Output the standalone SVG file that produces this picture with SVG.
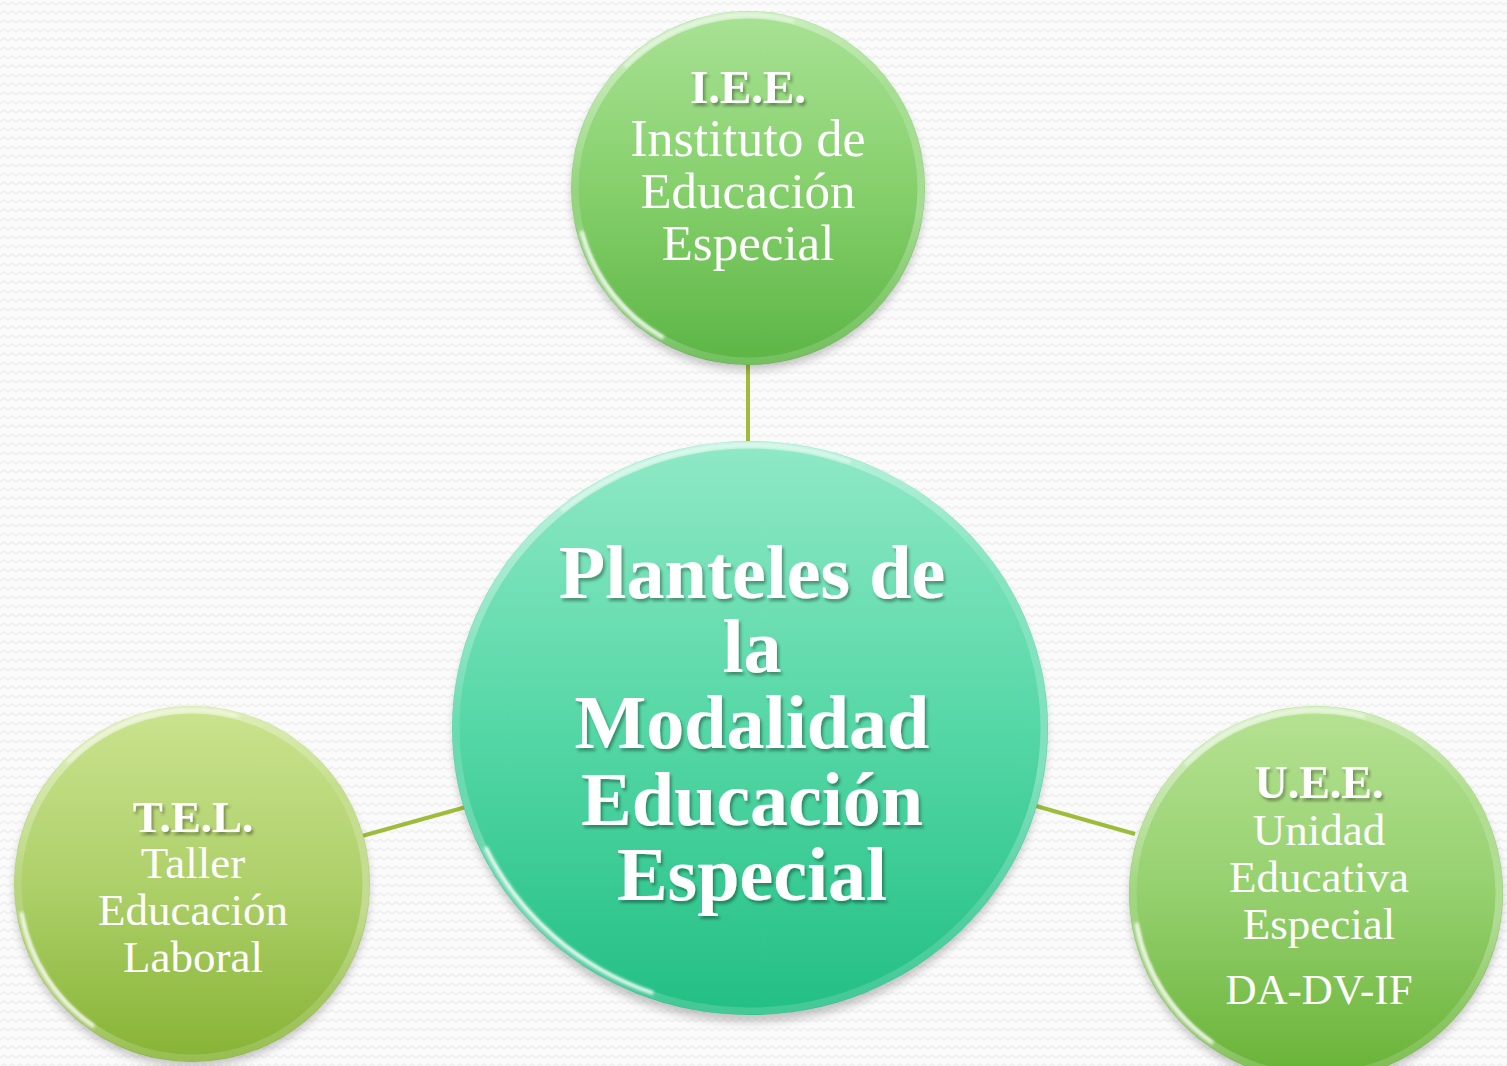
<svg xmlns="http://www.w3.org/2000/svg" width="1507" height="1066" viewBox="0 0 1507 1066">
<defs>
<pattern id="bgp" width="8" height="9" patternUnits="userSpaceOnUse">
<rect width="8" height="9" fill="#fbfbfb"/>
<path d="M0 5 L4 2 L8 5" fill="none" stroke="#efefef" stroke-width="1.5"/>
</pattern>
<linearGradient id="gTop" x1="0" y1="0" x2="0" y2="1">
<stop offset="0" stop-color="#a9e295"/>
<stop offset="0.5" stop-color="#86d06c"/>
<stop offset="1" stop-color="#5cb545"/>
</linearGradient>
<linearGradient id="gCen" x1="0" y1="0" x2="0" y2="1">
<stop offset="0" stop-color="#90e9c6"/>
<stop offset="0.5" stop-color="#55d7a6"/>
<stop offset="1" stop-color="#22bf84"/>
</linearGradient>
<linearGradient id="gLeft" x1="0" y1="0" x2="0" y2="1">
<stop offset="0" stop-color="#cbe38f"/>
<stop offset="0.5" stop-color="#aed06a"/>
<stop offset="1" stop-color="#86b334"/>
</linearGradient>
<linearGradient id="gRight" x1="0" y1="0" x2="0" y2="1">
<stop offset="0" stop-color="#b6e293"/>
<stop offset="0.5" stop-color="#95d06e"/>
<stop offset="1" stop-color="#68b236"/>
</linearGradient>
<linearGradient id="rim" x1="0" y1="0" x2="0.3" y2="1">
<stop offset="0" stop-color="#ffffff" stop-opacity="0.55"/>
<stop offset="0.45" stop-color="#ffffff" stop-opacity="0.12"/>
<stop offset="0.8" stop-color="#ffffff" stop-opacity="0.3"/>
<stop offset="1" stop-color="#ffffff" stop-opacity="0.15"/>
</linearGradient>
<filter id="sh" x="-20%" y="-20%" width="140%" height="140%">
<feGaussianBlur stdDeviation="5"/>
</filter>
<filter id="gl" x="-20%" y="-20%" width="140%" height="140%">
<feGaussianBlur stdDeviation="1.5"/>
</filter>
<filter id="ts" x="-10%" y="-20%" width="120%" height="140%">
<feDropShadow dx="2" dy="3" stdDeviation="1.5" flood-color="#000" flood-opacity="0.35"/>
</filter>
</defs>
<style>
.t{font-family:"Liberation Serif","Times New Roman",serif;fill:#ffffff;text-anchor:middle}
.b{font-weight:bold}
.con{stroke:#9dbd3a;stroke-width:4;fill:none}
.ring{fill:none;stroke:url(#rim);stroke-width:7}
.shadow{fill:#000;opacity:0.22}
.glint{fill:none;stroke:#ffffff;stroke-width:4;stroke-linecap:round;opacity:0.85}
.glintTop{fill:none;stroke:#ffffff;stroke-width:4;stroke-linecap:round;opacity:0.5}
</style>
<rect width="1507" height="1066" fill="url(#bgp)"/>
<g id="connectors">
<line class="con" x1="748" y1="360" x2="748" y2="446"/>
<line class="con" x1="362" y1="836" x2="466" y2="807"/>
<line class="con" x1="1036" y1="806" x2="1135" y2="834"/>
</g>
<g id="node-top">
<circle class="shadow" cx="748" cy="194" r="176" filter="url(#sh)"/>
<circle cx="748" cy="188" r="177" fill="url(#gTop)"/>
<circle class="ring" cx="748" cy="188" r="173"/>
<circle class="glint" cx="748" cy="188" r="172" pathLength="360" stroke-dasharray="45 315" stroke-dashoffset="-120" filter="url(#gl)"/>
<circle class="glintTop" cx="748" cy="188" r="173" pathLength="360" stroke-dasharray="60 300" stroke-dashoffset="-225" filter="url(#gl)"/>
<g filter="url(#ts)">
<text class="t b" x="748" y="103" font-size="47">I.E.E.</text>
</g>
<text class="t" x="748" y="156" font-size="52">Instituto de</text>
<text class="t" x="748" y="208" font-size="51">Educación</text>
<text class="t" x="748" y="260" font-size="51">Especial</text>
</g>
<g id="node-center">
<ellipse class="shadow" cx="750" cy="735" rx="296" ry="287" filter="url(#sh)"/>
<ellipse cx="750" cy="728" rx="298" ry="287" fill="url(#gCen)"/>
<ellipse class="ring" cx="750" cy="728" rx="294" ry="283"/>
<ellipse class="glint" cx="750" cy="728" rx="292" ry="281" pathLength="360" stroke-dasharray="45 315" stroke-dashoffset="-110" filter="url(#gl)"/>
<ellipse class="glintTop" cx="750" cy="728" rx="294" ry="283" pathLength="360" stroke-dasharray="60 300" stroke-dashoffset="-230" filter="url(#gl)"/>
<g filter="url(#ts)">
<text class="t b" x="752" y="598" font-size="76">Planteles de</text>
<text class="t b" x="752" y="672" font-size="76">la</text>
<text class="t b" x="752" y="748" font-size="76">Modalidad</text>
<text class="t b" x="752" y="825" font-size="76">Educación</text>
<text class="t b" x="752" y="900" font-size="76">Especial</text>
</g>
</g>
<g id="node-left">
<circle class="shadow" cx="192" cy="890" r="177" filter="url(#sh)"/>
<circle cx="192" cy="884" r="178" fill="url(#gLeft)"/>
<circle class="ring" cx="192" cy="884" r="174"/>
<circle class="glint" cx="192" cy="884" r="173" pathLength="360" stroke-dasharray="45 315" stroke-dashoffset="-125" filter="url(#gl)"/>
<circle class="glintTop" cx="192" cy="884" r="174" pathLength="360" stroke-dasharray="60 300" stroke-dashoffset="-225" filter="url(#gl)"/>
<g filter="url(#ts)">
<text class="t b" x="193" y="832" font-size="45">T.E.L.</text>
</g>
<text class="t" x="193" y="878" font-size="45">Taller</text>
<text class="t" x="193" y="925" font-size="45">Educación</text>
<text class="t" x="193" y="972" font-size="45">Laboral</text>
</g>
<g id="node-right">
<circle class="shadow" cx="1316" cy="899" r="186" filter="url(#sh)"/>
<circle cx="1316" cy="893" r="187" fill="url(#gRight)"/>
<circle class="ring" cx="1316" cy="893" r="183"/>
<circle class="glint" cx="1316" cy="893" r="182" pathLength="360" stroke-dasharray="45 315" stroke-dashoffset="-125" filter="url(#gl)"/>
<circle class="glintTop" cx="1316" cy="893" r="183" pathLength="360" stroke-dasharray="60 300" stroke-dashoffset="-225" filter="url(#gl)"/>
<g filter="url(#ts)">
<text class="t b" x="1319" y="798" font-size="46">U.E.E.</text>
</g>
<text class="t" x="1319" y="845" font-size="45">Unidad</text>
<text class="t" x="1319" y="892" font-size="45">Educativa</text>
<text class="t" x="1319" y="939" font-size="45">Especial</text>
<text class="t" x="1319" y="1004" font-size="43">DA-DV-IF</text>
</g>
</svg>
